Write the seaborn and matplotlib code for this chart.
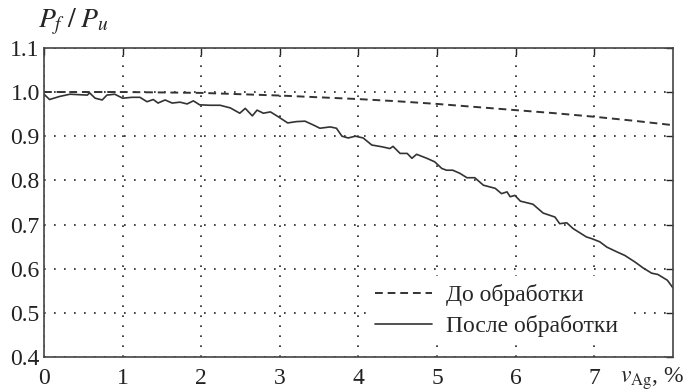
import pandas as pd
import matplotlib
matplotlib.use('Agg')
import matplotlib.pyplot as plt
import seaborn as sns

# Dashed curve: before treatment
x_before = [0, 0.5, 1, 1.5, 2, 2.5, 3, 3.5, 4, 4.5, 5, 5.5, 6, 6.5, 7, 7.5, 8]
y_before = [1.0, 1.0, 1.0, 0.999, 0.998, 0.995, 0.992, 0.988, 0.984, 0.979,
            0.973, 0.966, 0.959, 0.952, 0.944, 0.935, 0.925]

# Solid curve: after treatment
x_after = [0.0, 0.07, 0.2, 0.33, 0.55, 0.58, 0.65, 0.74, 0.8, 0.9, 1.0, 1.12, 1.22,
           1.31, 1.39, 1.45, 1.54, 1.63, 1.73, 1.82, 1.9, 1.98, 2.11, 2.24, 2.37,
           2.49, 2.56, 2.65, 2.71, 2.79, 2.88, 2.98, 3.1, 3.21, 3.32, 3.43, 3.51,
           3.64, 3.72, 3.79, 3.87, 3.96, 4.06, 4.17, 4.3, 4.4, 4.44, 4.53, 4.62,
           4.68, 4.74, 4.87, 4.97, 5.06, 5.12, 5.2, 5.29, 5.38, 5.48, 5.59, 5.74,
           5.82, 5.89, 5.93, 5.99, 6.06, 6.22, 6.35, 6.5, 6.56, 6.65, 6.73, 6.9,
           6.97, 7.07, 7.16, 7.29, 7.39, 7.52, 7.62, 7.73, 7.81, 7.93, 8.0]
y_after = [0.995, 0.983, 0.99, 0.995, 0.993, 0.998, 0.986, 0.982, 0.993, 0.995,
           0.986, 0.988, 0.988, 0.978, 0.983, 0.975, 0.982, 0.975, 0.977, 0.973,
           0.98, 0.971, 0.970, 0.970, 0.964, 0.952, 0.963, 0.946, 0.959, 0.952,
           0.955, 0.944, 0.93, 0.933, 0.934, 0.925, 0.918, 0.921, 0.918, 0.9,
           0.896, 0.9, 0.896, 0.88, 0.876, 0.872, 0.877, 0.861, 0.861, 0.85,
           0.859, 0.85, 0.842, 0.827, 0.823, 0.823, 0.816, 0.806, 0.806, 0.789,
           0.782, 0.77, 0.774, 0.763, 0.766, 0.753, 0.746, 0.726, 0.717, 0.702,
           0.704, 0.691, 0.672, 0.668, 0.661, 0.649, 0.638, 0.63, 0.615, 0.602,
           0.59, 0.587, 0.574, 0.557]

labels = ['До обработки', 'После обработки']
x_ticks = [0, 1, 2, 3, 4, 5, 6, 7]
y_ticks = [0.4, 0.5, 0.6, 0.7, 0.8, 0.9, 1.0, 1.1]

sns.set_style('white')
plt.rcParams['font.family'] = ['Liberation Serif', 'DejaVu Serif']
plt.rcParams['mathtext.fontset'] = 'stix'

fig, ax = plt.subplots(figsize=(6.88, 3.92), dpi=100)
fig.subplots_adjust(left=0.064, right=0.978, top=0.878, bottom=0.089)

line_color = '#333333'
sns.lineplot(x=x_before, y=y_before, ax=ax, color=line_color, linewidth=1.4,
             linestyle=(0, (4, 2.5)), label=labels[0])
sns.lineplot(x=x_after, y=y_after, ax=ax, color=line_color, linewidth=1.2,
             label=labels[1])

ax.set_xlim(0, 8)
ax.set_ylim(0.4, 1.1)
ax.set_xticks(x_ticks)
ax.set_yticks(y_ticks)
ax.set_xticklabels([str(t) for t in x_ticks])
ax.set_yticklabels([f'{t:.1f}' for t in y_ticks])
ax.tick_params(axis='both', direction='in', length=5, width=1, labelsize=17,
               top=True, right=True, colors='#222222', pad=3)
ax.tick_params(axis='x', pad=8)

ax.grid(True, color='#222222', linestyle=(0, (1, 5)), linewidth=1.2)
for s in ax.spines.values():
    s.set_color('#444444')
    s.set_linewidth(1.2)

ax.set_xlabel('')
ax.set_ylabel('')
ax.text(-0.01, 1.035, r'$P_f\;/\;P_u$', transform=ax.transAxes, fontsize=20,
        ha='left', va='bottom')
ax.text(1.018, -0.025, r'$v_{\mathrm{Ag}}$, %', transform=ax.transAxes,
        fontsize=17, ha='right', va='top')

leg = ax.legend(loc='lower right', bbox_to_anchor=(0.945, 0.0), frameon=True,
                fancybox=False, framealpha=1, edgecolor='none', fontsize=17,
                handlelength=2.4, handletextpad=0.6, labelspacing=0.38,
                borderpad=0.35)

fig.savefig('out.png', dpi=100)
